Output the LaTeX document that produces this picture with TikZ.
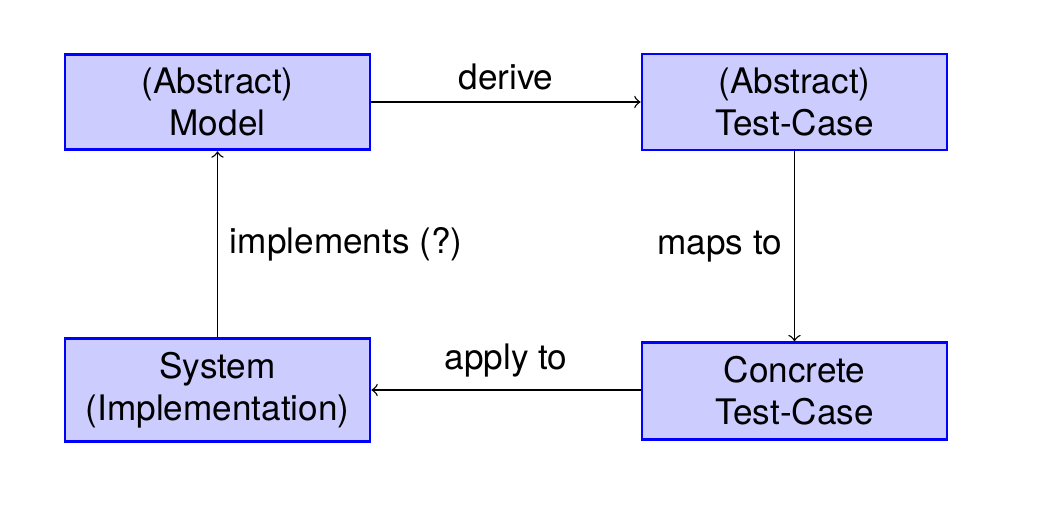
\documentclass[tikz,border=0pt]{standalone}
\usepackage{fontspec}
\setmainfont{TeX Gyre Heros}
\usetikzlibrary{arrows}
\tikzset{>=to}
\tikzset{box/.style={draw=blue, line width=0.8pt, fill=blue!20, minimum width=3.05cm, inner ysep=3.9pt, align=center}}

\begin{document}
\begin{tikzpicture}
    \useasboundingbox (0,0) rectangle (10.44,5.25);

    \node[box] (model) at (2.175,4.23) {(Abstract)\\Model};
    \node[box] (abstest) at (7.945,4.23) {(Abstract)\\Test-Case};
    \node[box] (system) at (2.175,1.35) {System\\(Implementation)};
    \node[box] (concrete) at (7.945,1.34) {Concrete\\Test-Case};

    \draw[->] (model) -- node[above] {derive} (abstest);
    \draw[->] (abstest) -- node[left] {maps to} (concrete);
    \draw[->] (concrete.west |- system) -- node[above] {apply to} (system);
    \draw[->] (system) -- node[right] {implements (?)} (model);

\end{tikzpicture}
\end{document}
